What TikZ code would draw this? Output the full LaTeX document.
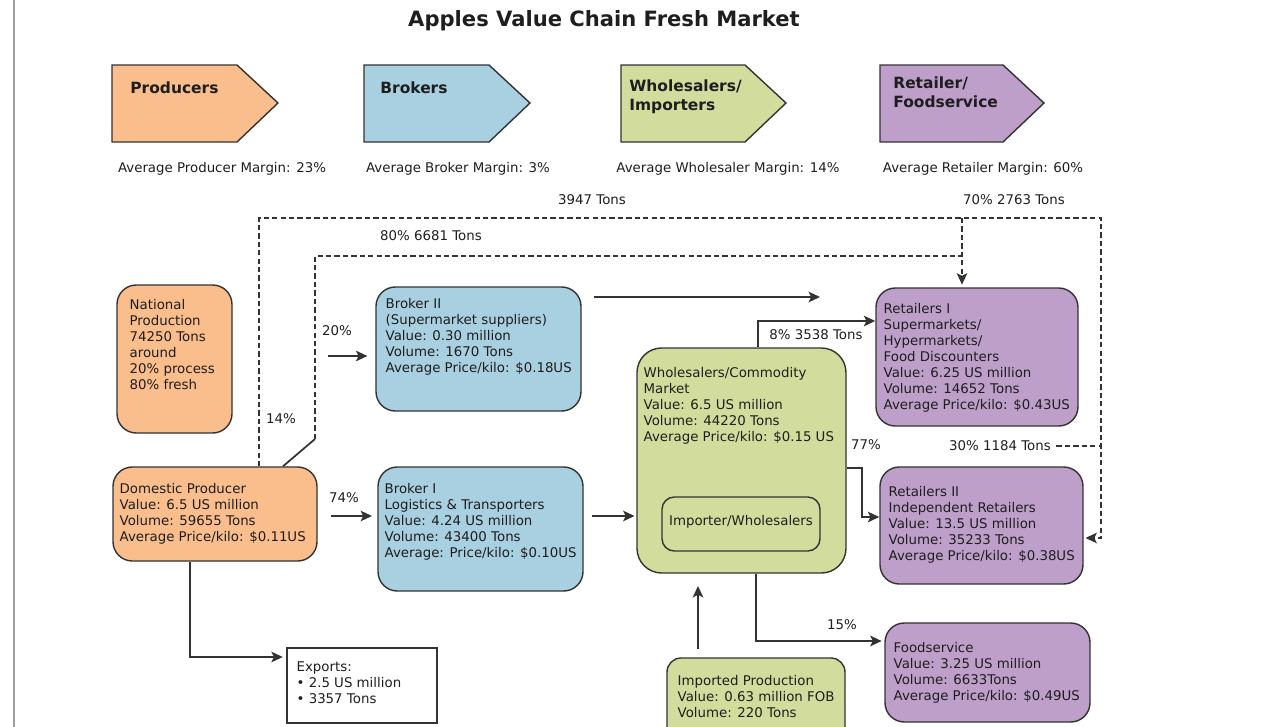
\documentclass[tikz,border=0pt]{standalone}
\usepackage{fontspec}
\setmainfont{DejaVu Sans}
\usetikzlibrary{arrows.meta,fit}

\definecolor{prodorange}{HTML}{FABD8C}
\definecolor{brokerblue}{HTML}{A9D0E1}
\definecolor{wholegreen}{HTML}{D2DD9D}
\definecolor{retailpurple}{HTML}{BE9FCA}
\definecolor{boxline}{HTML}{333333}
\definecolor{inktext}{HTML}{1E1E1E}

\tikzset{
	box/.style={draw=boxline, line width=0.8pt, rounded corners=11pt, inner sep=0pt},
	info/.style={anchor=north west, inner sep=0pt, align=left, text=inktext, font=\fontsize{7.6}{9.1}\selectfont},
	tag/.style={inner sep=1pt, text=inktext, font=\fontsize{7.6}{9.1}\selectfont},
	head/.style={anchor=north west, inner sep=0pt, align=left, text=inktext, font=\fontsize{8.8}{10.8}\selectfont\bfseries},
	chevron/.style={draw=boxline, line width=0.8pt},
	flow/.style={line width=1.1pt, draw=boxline, -{Stealth[length=6.5pt,width=6pt,inset=1.5pt]}},
	dashflow/.style={line width=1pt, draw=boxline, dash pattern=on 3pt off 1.8pt},
}

\begin{document}
\begin{tikzpicture}[x=0.02cm, y=-0.02cm]
	\clip (0,0) rectangle (1272,727);
	\draw [gray!75, line width=1pt] (14,0) -- (14,727) ;% left rule

	\node [font=\fontsize{12}{14}\selectfont\bfseries, text=inktext] (title) at (604,21) {Apples Value Chain Fresh Market};

	% stage chevrons
	\draw [chevron, fill=prodorange] (112,65) -- (237,65) -- (278,103) -- (237,142) -- (112,142) -- cycle;
	\draw [chevron, fill=brokerblue] (364,65) -- (489,65) -- (530,103) -- (489,142) -- (364,142) -- cycle;
	\draw [chevron, fill=wholegreen] (621,65) -- (745,65) -- (786,103) -- (745,142) -- (621,142) -- cycle;
	\draw [chevron, fill=retailpurple] (880,65) -- (1003,65) -- (1044,103) -- (1003,142) -- (880,142) -- cycle;
	\node [head] (hprod) at (130,81) {Producers};
	\node [head] (hbroker) at (380,81) {Brokers};
	\node [head] (hwhole) at (629,79) {Wholesalers/\\Importers};
	\node [head] (hretail) at (893,76) {Retailer/\\Foodservice};

	\node [tag] (mprod) at (222,169) {Average Producer Margin: 23\%};
	\node [tag] (mbroker) at (458,169) {Average Broker Margin: 3\%};
	\node [tag] (mwhole) at (728,169) {Average Wholesaler Margin: 14\%};
	\node [tag] (mretail) at (983,169) {Average Retailer Margin: 60\%};

	% boxes
	\node [box, fill=prodorange, fit={(117,285) (232,433)}] (national) {};
	\node [info] (nationaltxt) at ([shift={(13,14.5)}]national.north west) {National\\Production\\74250 Tons\\around\\20\% process\\80\% fresh};

	\node [box, fill=prodorange, fit={(113,467) (317,561)}] (domestic) {};
	\node [info] (domestictxt) at ([shift={(7,16.5)}]domestic.north west) {Domestic Producer\\Value: 6.5 US million\\Volume: 59655 Tons\\Average Price/kilo: \$0.11US};

	\node [box, fill=brokerblue, fit={(376,287) (581,411)}] (broker2) {};
	\node [info] (broker2txt) at ([shift={(10,12)}]broker2.north west) {Broker II\\(Supermarket suppliers)\\Value: 0.30 million\\Volume: 1670 Tons\\Average Price/kilo: \$0.18US};

	\node [box, fill=brokerblue, fit={(378,467) (583,591)}] (broker1) {};
	\node [info] (broker1txt) at ([shift={(7,16.5)}]broker1.north west) {Broker I\\Logistics \& Transporters\\Value: 4.24 US million\\Volume: 43400 Tons\\Average: Price/kilo: \$0.10US};

	\node [box, fill=wholegreen, rounded corners=14pt, fit={(637,348) (846,573)}] (wholesale) {};
	\node [info] (wholesaletxt) at ([shift={(7,19.5)}]wholesale.north west) {Wholesalers/Commodity\\Market\\Value: 6.5 US million\\Volume: 44220 Tons\\Average Price/kilo: \$0.15 US};
	\node [box, rounded corners=7pt, fit={(662,497) (820,551)}] (importer) {};
	\node [tag] (importertxt) at ([yshift=1pt]importer.center) {Importer/Wholesalers};

	\node [box, fill=wholegreen, rounded corners=8pt, fit={(667,658) (845,760)}] (imported) {};
	\node [info] (importedtxt) at ([shift={(11,17.5)}]imported.north west) {Imported Production\\Value: 0.63 million FOB\\Volume: 220 Tons};

	\node [box, fill=retailpurple, fit={(876,288) (1078,426)}] (retail1) {};
	\node [info] (retail1txt) at ([shift={(8,16)}]retail1.north west) {Retailers I\\Supermarkets/\\Hypermarkets/\\Food Discounters\\Value: 6.25 US million\\Volume: 14652 Tons\\Average Price/kilo: \$0.43US};

	\node [box, fill=retailpurple, fit={(880,467) (1083,584)}] (retail2) {};
	\node [info] (retail2txt) at ([shift={(9,19.5)}]retail2.north west) {Retailers II\\Independent Retailers\\Value: 13.5 US million\\Volume: 35233 Tons\\Average Price/kilo: \$0.38US};

	\node [box, fill=retailpurple, fit={(885,623) (1090,722)}] (food) {};
	\node [info] (foodtxt) at ([shift={(9,19.5)}]food.north west) {Foodservice\\Value: 3.25 US million\\Volume: 6633Tons\\Average Price/kilo: \$0.49US};

	\node [box, rounded corners=0pt, fit={(287,648) (437,723)}] (exports) {};
	\node [info] (exportstxt) at ([shift={(10,14.5)}]exports.north west) {Exports:\\\textbullet\ 2.5 US million\\\textbullet\ 3357 Tons};

	% solid flows
	\coordinate (r20) at (328,356);
	\coordinate (r74) at (331,516);
	\coordinate (b2tip) at (820,297);
	\coordinate (w8) at (758,321);
	\coordinate (w77) at (862,468);
	\coordinate (r517) at (862,517);
	\coordinate (w15) at (756,641);
	\coordinate (imp) at (698,0);
	\coordinate (ex) at (190,657);
	\draw [flow, shorten >=4.5pt] (r20) -- (r20 -| broker2.west);
	\draw [flow, shorten >=3pt] (r74) -- (r74 -| broker1.west);
	\draw [flow, shorten <=7pt] (b2tip -| broker2.east) -- (b2tip);
	\draw [flow, shorten <=5pt, shorten >=1pt] (broker1.east |- r74) -- (wholesale.west |- r74);
	\draw [flow] (wholesale.north -| w8) -- (w8) -- (w8 -| retail1.west);
	\draw [flow] (wholesale.east |- w77) -- (w77) -- (r517) -- (r517 -| retail2.west);
	\draw [flow, shorten >=1.5pt] (wholesale.south -| w15) -- (w15) -- (w15 -| food.west);
	\draw [flow, shorten <=5pt, shorten >=7pt] (imported.north -| imp) -- (wholesale.south -| imp);
	\draw [flow, shorten >=2pt] (domestic.south -| ex) -- (ex) -- (ex -| exports.west);

	% dashed flows to retailers
	\coordinate (o1) at (259,218);
	\coordinate (o2) at (1101,218);
	\coordinate (o3) at (1101,538);
	\coordinate (v1) at (962,218);
	\coordinate (dg) at (283,0);
	\coordinate (i1) at (315,439);
	\coordinate (i2) at (315,256);
	\draw [dashflow, -{Stealth[length=6.5pt,width=6pt,inset=1.5pt]}, shorten >=1pt] (domestic.north -| o1) -- (o1) -- (o2) -- (o3) -- (o3 -| retail2.east);
	\draw [dashflow, -{Stealth[length=6.5pt,width=6pt,inset=1.5pt]}, shorten >=1.5pt] (v1) -- (v1 |- retail1.north);
	\draw [line width=1pt, draw=boxline] (domestic.north -| dg) -- (i1);
	\draw [dashflow] (i1) -- (i2) -- (i2 -| v1);

	% flow labels
	\node [tag] (t3947) at (592,200) {3947 Tons};
	\node [tag] (t2763) at (1014,200) {70\% 2763 Tons};
	\node [tag] (t6681) at (431,236) {80\% 6681 Tons};
	\node [tag] (t20) at (337,331) {20\%};
	\node [tag] (t14) at (281,419) {14\%};
	\node [tag] (t74) at (344,498) {74\%};
	\node [tag] (t3538) at (816,335) {8\% 3538 Tons};
	\node [tag] (t77) at (866,445) {77\%};
	\node [tag] (t1184) at (1000,446) {30\% 1184 Tons};
	\node [tag] (t15) at (842,625) {15\%};
	\draw [dashflow, shorten <=2pt] (t1184.east) -- (t1184.east -| o2);
\end{tikzpicture}
\end{document}
